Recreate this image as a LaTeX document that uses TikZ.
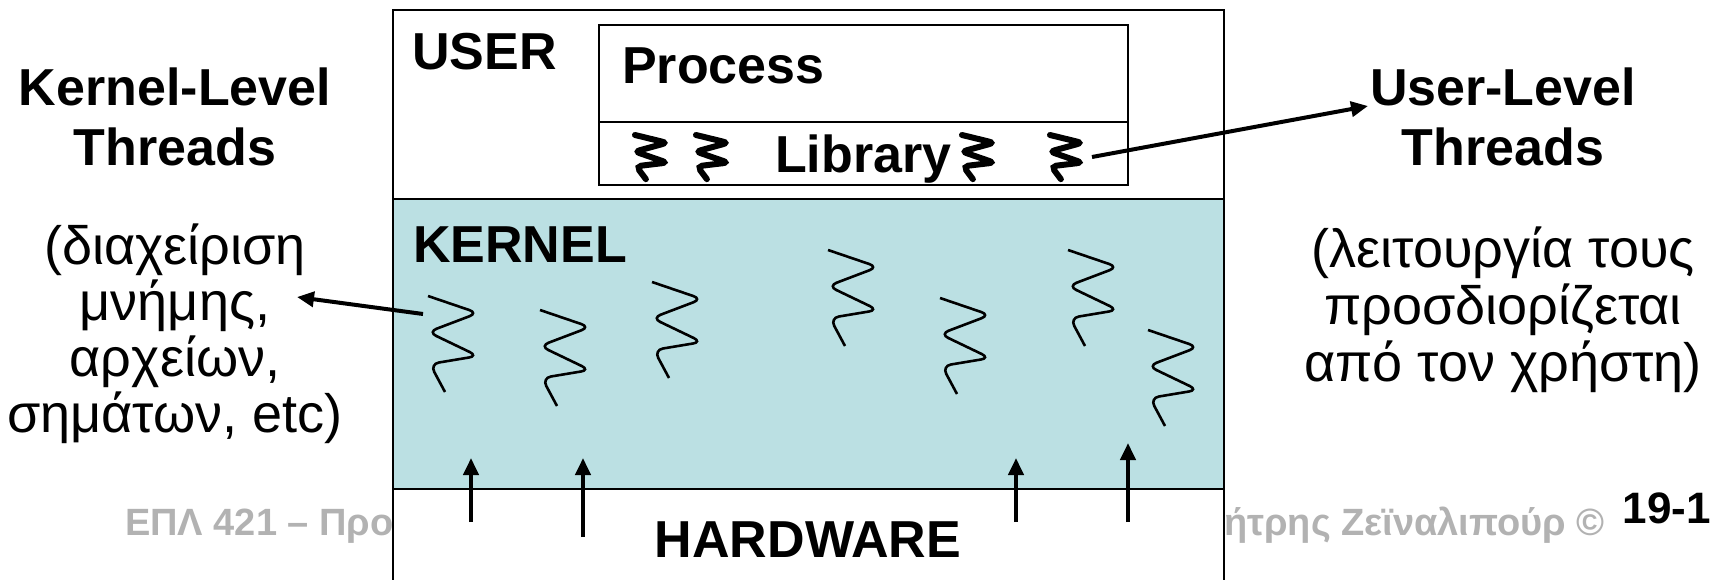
\documentclass[tikz,border=0pt]{standalone}
\usepackage{fontspec}
\setmainfont{Liberation Sans}
\usetikzlibrary{arrows.meta,positioning}
\definecolor{kernBlue}{RGB}{187,224,227}
\definecolor{footGray}{RGB}{178,178,178}

\begin{document}
\begin{tikzpicture}[x=1pt, y=-1pt,
  lbl/.style={font=\bfseries\fontsize{52}{60}\selectfont, inner sep=0pt},
  desc/.style={font=\fontsize{54}{60}\selectfont, inner sep=0pt, anchor=base},
  foot/.style={font=\bfseries\fontsize{38}{44}\selectfont, text=footGray,
               inner sep=0pt},
  wire/.style={line width=2.5pt},
  arr/.style={-{Triangle[length=17pt,width=15pt]}, line width=4pt},
  libthr/.style={draw, xscale=0.64, yscale=0.46, line width=6pt,
                 line cap=round},
  pics/thread/.style={code={
    \path[pic actions, rounded corners=#1] (0,0) -- (50,17) -- (0,36)
      -- (50,60) -- (2,68) -- (17,96);
  }},
  pics/thread/.default=9pt
]
  \useasboundingbox (0,0) rectangle (1713,580);

  % footer, partly hidden by the layers
  \node[foot, anchor=base west] (FootL) at (125,535)
    {ΕΠΛ 421 – Προγραμματισμός};
  \node[foot, anchor=base east] (FootR) at (1605,535)
    {Δημήτρης Ζεϊναλιπούρ ©};
  \node[anchor=base east, inner sep=0pt,
        font=\bfseries\fontsize{44}{50}\selectfont] (Page) at (1711,523) {19-1};

  % layers
  \fill[white] (393,10) rectangle (1224,199);
  \fill[kernBlue] (393,199) rectangle (1224,489);
  \fill[white] (393,489) rectangle (1224,580);
  \draw[wire] (393,580) -- (393,10) -- (1224,10) -- (1224,580);
  \draw[wire] (393,199) -- (1224,199);
  \draw[wire] (393,489) -- (1224,489);
  \draw[wire, fill=white] (599,25) rectangle (1128,185);
  \draw[wire] (599,122) -- (1128,122);

  \node[lbl, anchor=base west] (User) at (412,70) {USER};
  \node[lbl, anchor=base west] (Proc) at (622,84) {Process};
  \node[lbl, anchor=base west] (Lib) at (775,173) {Library};
  \node[lbl, anchor=base west] (Kernel) at (413,262) {KERNEL};
  \node[lbl, anchor=base] (Hw) at (808,557) {HARDWARE};

  % side texts
  \node[lbl, anchor=base] (KLT) at (175,106) {Kernel-Level};
  \node[lbl, anchor=base] (KLTb) at (175,166) {Threads};
  \foreach \t [count=\i] in {{(διαχείριση}, {μνήμης,}, {αρχείων,},
                             {σημάτων, etc)}}
    \node[desc] (KD\i) at (175,{208+56*\i}) {\t};
  \node[lbl, anchor=base] (ULT) at (1503,106) {User-Level};
  \node[lbl, anchor=base] (ULTb) at (1503,166) {Threads};
  \foreach \t [count=\i] in {{(λειτουργία τους}, {προσδιορίζεται},
                             {από τον χρήστη)}}
    \node[desc] (UD\i) at (1503,{210+57*\i}) {\t};

  % threads
  \foreach \x in {635, 696, 962, 1050}
    \pic[libthr] at (\x,135) {thread=5pt};
  \foreach \x/\y in {428/296, 540/310, 652/282, 828/250, 940/298,
                     1068/250, 1148/330}
    \pic[draw, line width=2.6pt] at (\x,\y) {thread};

  % connectors
  \coordinate (k1) at (423,314);
  \coordinate (kTip) at (297,297);
  \draw[arr] (k1) -- (kTip);
  \coordinate (u1) at (1092,157);
  \coordinate (uTip) at (1368,106);
  \draw[arr] (u1) -- (uTip);
  \foreach \x/\b/\t [count=\i] in {471/522/458, 583/537/458, 1016/522/458,
                                   1128/522/443} {
    \coordinate (hw\i) at (\x,\b);
    \coordinate (kt\i) at (\x,\t);
    \draw[arr] (hw\i) -- (kt\i);
  }
\end{tikzpicture}
\end{document}
